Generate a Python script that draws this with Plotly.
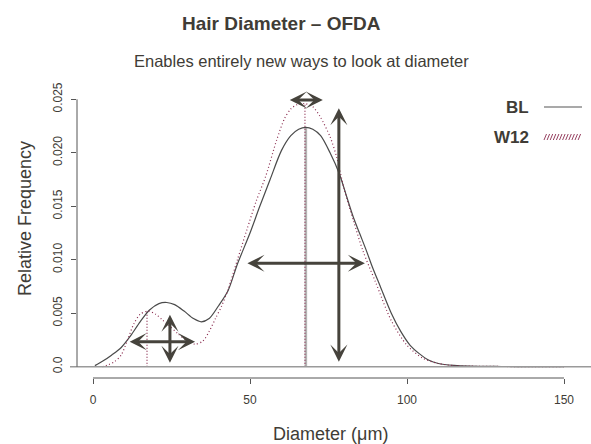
import plotly.graph_objects as go

# ---------------- data ----------------
bl_x = [0.6, 3, 6, 9, 12, 15, 18, 21, 23.5, 26, 29, 32, 34.5, 37, 40, 43, 46, 50, 53, 56.4,
        60, 63, 65.5, 67.8, 70, 72.5, 75.5, 78.5, 81, 83, 85, 87, 89, 91.5, 95, 98, 101, 104,
        107, 110, 115, 120, 130, 140, 150]
bl_y = [0.0001, 0.0005, 0.0011, 0.0018, 0.0029, 0.0042, 0.0053, 0.0059, 0.0060, 0.0058, 0.0052,
        0.0045, 0.0042, 0.0045, 0.0057, 0.0071, 0.0096, 0.0125, 0.0149, 0.0175, 0.0202, 0.0216,
        0.0222, 0.02238, 0.0222, 0.0216, 0.0200, 0.0180, 0.0157, 0.0139, 0.0124, 0.0109, 0.0093,
        0.0075, 0.0050, 0.0033, 0.0020, 0.0012, 0.0006, 0.0003, 0.00012, 0.00005, 0.00002,
        0.00001, 0.0]

w12_x = [3, 5, 7, 9, 11, 13, 15, 17.5, 20, 22, 24, 27, 30, 32.5, 35, 37, 39, 41, 43, 46, 49,
         52, 55, 58.5, 61, 63, 65, 67.5, 70, 72.3, 75.5, 77.6, 80, 83, 86, 90, 95, 100, 105,
         110, 115, 120, 130, 140, 150]
w12_y = [0.0, 0.0002, 0.0005, 0.0011, 0.0025, 0.0040, 0.0049, 0.0052, 0.0049, 0.0044, 0.0039,
         0.0031, 0.0024, 0.0021, 0.0024, 0.0033, 0.0045, 0.0057, 0.0072, 0.0100, 0.0128, 0.0155,
         0.0178, 0.0212, 0.0232, 0.0241, 0.0245, 0.0246, 0.0243, 0.0234, 0.0215, 0.0196, 0.0166,
         0.0136, 0.0108, 0.0079, 0.0043, 0.0020, 0.0008, 0.0003, 0.0001, 0.00005, 0.00002,
         0.00001, 0.0]

bl_mode_x = [67.8]
bl_mode_y = [0.02238]
w12_modes_x = [17.2, 67.5]
w12_modes_y = [0.0052, 0.0246]

# arrows: (x_start, y_start, x_end, y_end), all double-headed
arrow_x0 = [11.2, 24.5, 62.2, 48.7, 78.3]
arrow_y0 = [0.00234, 0.0050, 0.02494, 0.00967, 0.02431]
arrow_x1 = [32.5, 24.5, 73.2, 86.6, 78.3]
arrow_y1 = [0.00234, 0.00037, 0.02494, 0.00967, 0.00047]

x_ticks = [0, 50, 100, 150]
y_ticks = [0.0, 0.005, 0.010, 0.015, 0.020, 0.025]
y_tick_text = ["0.0", "0.005", "0.010", "0.015", "0.020", "0.025"]

series_names = ["BL", "W12"]

# ---------------- styling / layout ----------------
W, H = 591, 444
L, R, T, B = 77, 0, 88, 66
PW, PH = W - L - R, H - T - B
TXT = "#403c36"
ARR = "#46433c"
BL_COL = "#4a4a4a"
W12_COL = "#8a2a4e"
FONT = "Liberation Sans, Arial, Helvetica, sans-serif"


def px(xp):
    return (xp - L) / PW


def py(yp):
    return (H - B - yp) / PH


fig = go.Figure()

# vertical mode lines
for mx, my in zip(bl_mode_x, bl_mode_y):
    fig.add_trace(go.Scatter(x=[mx, mx], y=[0, my], mode="lines",
                             line=dict(color="#b3b3b3", width=2.5), showlegend=False,
                             hoverinfo="skip"))
for mx, my in zip(w12_modes_x, w12_modes_y):
    fig.add_trace(go.Scatter(x=[mx, mx], y=[0, my], mode="lines",
                             line=dict(color=W12_COL, width=1.2, dash="1px,2px"),
                             showlegend=False, hoverinfo="skip"))

fig.add_trace(go.Scatter(x=bl_x, y=bl_y, mode="lines", name=series_names[0],
                         line=dict(color=BL_COL, width=1.2, shape="spline", smoothing=0.8),
                         showlegend=False))
fig.add_trace(go.Scatter(x=w12_x, y=w12_y, mode="lines", name=series_names[1],
                         line=dict(color=W12_COL, width=1.2, dash="1px,2.5px", shape="spline",
                                   smoothing=0.8),
                         showlegend=False))

shapes = []
# baseline h=0 (extends slightly beyond the y axis)
shapes.append(dict(type="line", xref="paper", yref="y", x0=px(70), x1=1.0, y0=0, y1=0,
                   line=dict(color="#9a9a9a", width=1.5)))
# x axis line from 0 to 150
shapes.append(dict(type="line", xref="x", yref="paper", x0=x_ticks[0], x1=x_ticks[-1],
                   y0=0, y1=0, line=dict(color="#555555", width=1)))
# y axis line from 0 to 0.025
shapes.append(dict(type="line", xref="paper", yref="y", x0=0, x1=0,
                   y0=y_ticks[0], y1=y_ticks[-1], line=dict(color="#555555", width=1)))
# legend BL line
shapes.append(dict(type="line", xref="paper", yref="paper", x0=px(544), x1=px(582),
                   y0=py(107), y1=py(107), line=dict(color="#555555", width=1.2)))
# legend W12 hatch
for i in range(12):
    xs = 544 + i * 3.1
    shapes.append(dict(type="line", xref="paper", yref="paper", x0=px(xs), x1=px(xs + 2.5),
                       y0=py(140), y1=py(134), line=dict(color=W12_COL, width=0.9)))

annotations = []
for x0, y0, x1, y1 in zip(arrow_x0, arrow_y0, arrow_x1, arrow_y1):
    annotations.append(dict(x=x1, y=y1, ax=x0, ay=y0, xref="x", yref="y", axref="x", ayref="y",
                            text="", showarrow=True, arrowhead=3, startarrowhead=3,
                            arrowside="end+start", arrowwidth=3, arrowsize=0.95,
                            startarrowsize=0.95, arrowcolor=ARR, standoff=0, startstandoff=0))

annotations += [
    dict(text="<b>Hair Diameter – OFDA</b>", x=px(281), y=py(23), xref="paper", yref="paper",
         showarrow=False, font=dict(size=19, color=TXT, family=FONT), xanchor="center",
         yanchor="middle"),
    dict(text="Enables entirely new ways to look at diameter", x=px(301), y=py(61),
         xref="paper", yref="paper", showarrow=False,
         font=dict(size=16.5, color=TXT, family=FONT), xanchor="center", yanchor="middle"),
    dict(text="Diameter (μm)", x=px(330), y=py(434), xref="paper", yref="paper",
         showarrow=False, font=dict(size=18, color=TXT, family=FONT), xanchor="center",
         yanchor="middle"),
    dict(text="Relative Frequency", x=px(25), y=py(219), xref="paper", yref="paper",
         showarrow=False, textangle=-90, font=dict(size=18, color=TXT, family=FONT),
         xanchor="center", yanchor="middle"),
    dict(text="<b>" + series_names[0] + "</b>", x=px(531), y=py(107), xref="paper",
         yref="paper", showarrow=False, font=dict(size=17, color=TXT, family=FONT),
         xanchor="right", yanchor="middle"),
    dict(text="<b>" + series_names[1] + "</b>", x=px(531), y=py(137), xref="paper",
         yref="paper", showarrow=False, font=dict(size=17, color=TXT, family=FONT),
         xanchor="right", yanchor="middle"),
]

x_scale = 3.14
y_scale = 10696.0
x_lo = (L - 93) / x_scale
x_hi = (W - R - 93) / x_scale
y_lo = (366.7 - (H - B)) / y_scale
y_hi = (366.7 - T) / y_scale

fig.update_layout(
    width=W, height=H, margin=dict(l=L, r=R, t=T, b=B, pad=0),
    paper_bgcolor="white", plot_bgcolor="white",
    font=dict(family=FONT, color=TXT),
    xaxis=dict(range=[x_lo, x_hi], tickvals=x_ticks, ticktext=[str(v) for v in x_ticks],
               ticks="outside", ticklen=5, tickwidth=1, tickcolor="#555555",
               showgrid=False, zeroline=False, showline=False,
               tickfont=dict(size=12, color=TXT, family=FONT), ticklabelstandoff=6),
    yaxis=dict(range=[y_lo, y_hi], tickvals=y_ticks, ticktext=y_tick_text,
               ticks="outside", ticklen=5, tickwidth=1, tickcolor="#555555",
               showgrid=False, zeroline=False, showline=False, tickangle=-90,
               tickfont=dict(size=12, color=TXT, family=FONT), ticklabelstandoff=4),
    shapes=shapes, annotations=annotations, showlegend=False,
)

fig.write_html("out.html")
